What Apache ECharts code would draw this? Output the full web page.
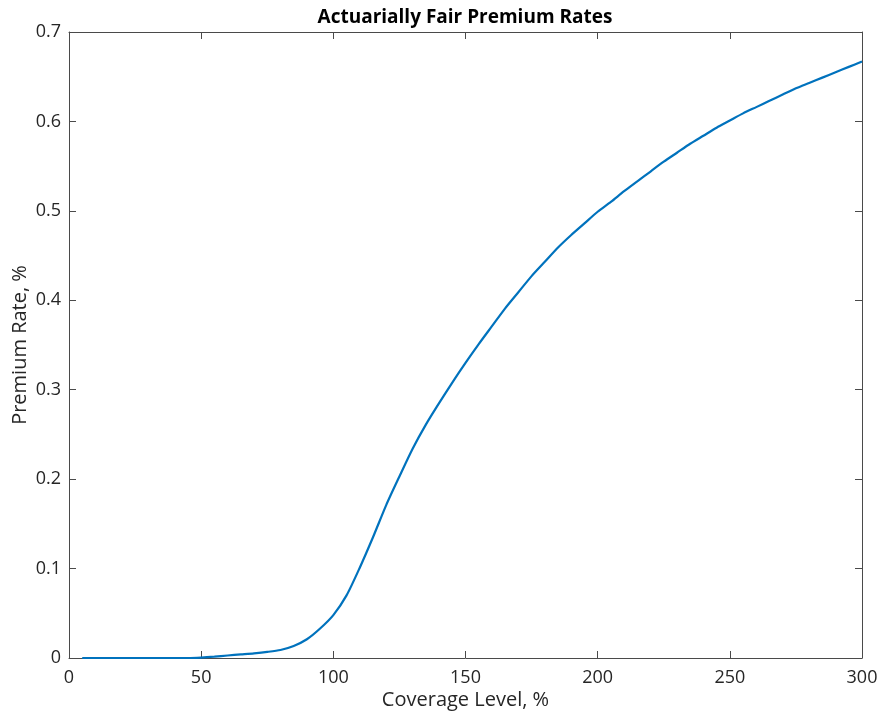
<!DOCTYPE html>
<html>
<head>
<meta charset="utf-8">
<script src="https://cdn.jsdelivr.net/npm/echarts@6/dist/echarts.min.js"></script>
<style>
  html, body { margin: 0; padding: 0; background: #ffffff; }
  #chart { width: 884px; height: 717px; }
</style>
</head>
<body>
<div id="chart"></div>
<script>
// Coverage level (%) and the matching actuarially fair premium rate
const coverageLevels = [
  5, 10, 15, 20, 25, 30, 35, 40, 45, 50,
  55, 60, 65, 70, 75, 80, 85, 90, 95, 100,
  105, 110, 115, 120, 125, 130, 135, 140, 145, 150,
  155, 160, 165, 170, 175, 180, 185, 190, 195, 200,
  205, 210, 215, 220, 225, 230, 235, 240, 245, 250,
  255, 260, 265, 270, 275, 280, 285, 290, 295, 300
];
const premiumRates = [
  0, 0, 0, 0, 0, 0, 0, 0, 0, 0.0005,
  0.0015, 0.0028, 0.004, 0.0052, 0.0068, 0.009, 0.0135, 0.021, 0.033, 0.048,
  0.07, 0.101, 0.135, 0.171, 0.203, 0.234, 0.261, 0.285, 0.308, 0.330,
  0.351, 0.371, 0.391, 0.409, 0.427, 0.443, 0.459, 0.473, 0.486, 0.499,
  0.510, 0.522, 0.533, 0.544, 0.555, 0.565, 0.575, 0.584, 0.593, 0.601,
  0.609, 0.616, 0.623, 0.630, 0.637, 0.643, 0.649, 0.655, 0.661, 0.667
];
const xTicks = [0, 50, 100, 150, 200, 250, 300];
const yTicks = [0, 0.1, 0.2, 0.3, 0.4, 0.5, 0.6, 0.7];

const FONT = '"Open Sans", sans-serif';
const TEXT = '#262626';
const AXIS = '#4a4a4a';

// Box frame: every side carries a line and inward ticks
const frameAxis = {
  axisLine: { show: true, onZero: false, lineStyle: { color: AXIS, width: 1 } },
  axisTick: { show: true, inside: true, length: 7, lineStyle: { color: AXIS, width: 1 } },
  splitLine: { show: false }
};

const chart = echarts.init(document.getElementById('chart'), null, { renderer: 'canvas' });
chart.setOption({
  animation: false,
  backgroundColor: '#ffffff',
  title: {
    text: 'Actuarially Fair Premium Rates',
    left: 460, top: 3, textAlign: 'center',
    textStyle: { fontFamily: FONT, fontWeight: 'bold', fontSize: 19, color: '#000000' }
  },
  grid: { left: 69, right: 22, top: 32, bottom: 59, containLabel: false, outerBoundsMode: 'none' },
  xAxis: [
    Object.assign({
      type: 'value', position: 'bottom',
      min: xTicks[0], max: xTicks[xTicks.length - 1], interval: 50,
      name: 'Coverage Level, %', nameLocation: 'middle', nameGap: 32,
      nameMoveOverlap: false,
      nameTextStyle: { fontFamily: FONT, fontSize: 20, color: TEXT },
      axisLabel: { fontFamily: FONT, fontSize: 18, color: TEXT, margin: 11 }
    }, frameAxis),
    Object.assign({
      type: 'value', position: 'top',
      min: xTicks[0], max: xTicks[xTicks.length - 1], interval: 50,
      axisLabel: { show: false }
    }, frameAxis)
  ],
  yAxis: [
    Object.assign({
      type: 'value', position: 'left',
      min: yTicks[0], max: yTicks[yTicks.length - 1], interval: 0.1,
      name: 'Premium Rate, %', nameLocation: 'middle', nameGap: 39,
      nameMoveOverlap: false,
      nameTextStyle: { fontFamily: FONT, fontSize: 20, color: TEXT },
      axisLabel: { fontFamily: FONT, fontSize: 18, color: TEXT, margin: 8 }
    }, frameAxis),
    Object.assign({
      type: 'value', position: 'right',
      min: yTicks[0], max: yTicks[yTicks.length - 1], interval: 0.1,
      axisLabel: { show: false }
    }, frameAxis)
  ],
  series: [{
    type: 'line',
    xAxisIndex: 0, yAxisIndex: 0,
    data: coverageLevels.map((c, i) => [c, premiumRates[i]]),
    showSymbol: false,
    smooth: 0.25,
    lineStyle: { color: '#0072BD', width: 2.2 },
    clip: true
  }]
});
</script>
</body>
</html>
